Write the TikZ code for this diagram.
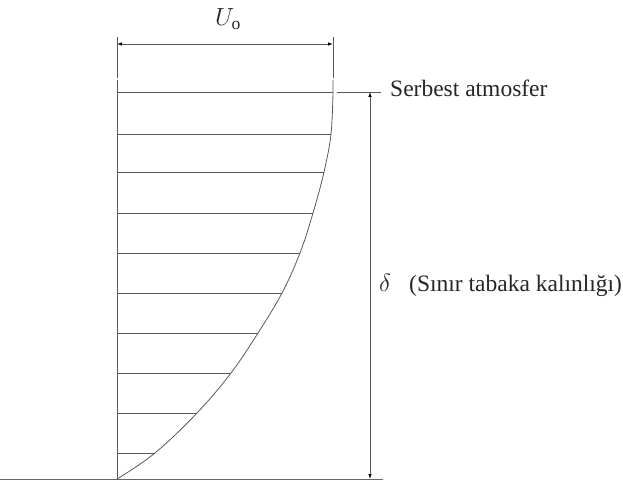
\documentclass[tikz,border=0pt]{standalone}
\usepackage{fontspec}
\setmainfont{Liberation Serif}
\usetikzlibrary{arrows.meta}
\begin{document}
\begin{tikzpicture}[x=1pt,y=-1pt,
  thin line/.style={draw=black!65,line width=0.8pt},
  dimline/.style={draw=black!65,line width=0.8pt,{Latex[length=5pt,width=3.5pt,color=black]}-{Latex[length=5pt,width=3.5pt,color=black]}},
  lbl/.style={font=\fontsize{23.5}{28}\selectfont,inner sep=0pt,text=black!85}]
\useasboundingbox (0,0) rectangle (623,481);
% key points
\coordinate (O) at (117,479);
\coordinate (axtop) at (117,80);
\coordinate (exLt) at (117,37);
\coordinate (exLb) at (117,78);
\coordinate (exRt) at (333,37);
\coordinate (exRb) at (333,78);
\coordinate (dimL) at (117,44);
\coordinate (dimR) at (333,44);
\coordinate (top) at (333,92);
\coordinate (curvetop) at (333,80);
\coordinate (gL) at (0,479.5);
\coordinate (gR) at (383,479.5);
\coordinate (tickL) at (337,92);
\coordinate (tickR) at (381,92);
\coordinate (dTop) at (370,92);
\coordinate (dBot) at (370,479);
% ground
\draw[draw=black!60,line width=1.8pt] (gL) -- (gR);
% axis and extension lines
\draw[thin line] (O) -- (axtop);
\draw[thin line] (exLt) -- (exLb);
\draw[thin line] (exRt) -- (exRb);
\draw[dimline] (dimL) -- (dimR);
% velocity profile
\draw[thin line] plot[smooth,tension=0.6] coordinates {(117,479) (155,453) (197,413) (231,373) (258,333) (282,293) (300,253) (313,213) (324,172) (331,134) (333,92)} -- (curvetop);
% horizontal velocity lines
\foreach \yy/\xx in {92/333,134/331,172/324,213/313,253/300,293/282,333/258,373/231,413/197,453/155}
  \draw[thin line] (117,\yy) -- (\xx,\yy);
% boundary layer thickness dimension
\draw[thin line] (tickL) -- (tickR);
\draw[dimline] (dTop) -- (dBot);
% labels
\node[lbl,font=\fontsize{25}{30}\selectfont] (U) at (228,19) {$U_{\mathrm{o}}$};
\node[lbl,anchor=base west] (serbest) at (390,97) {Serbest atmosfer};
\node[lbl,anchor=base west,font=\fontsize{25}{30}\selectfont] (delta) at (379,291) {$\delta$};
\node[lbl,anchor=base west] (sinir) at (409,291) {(Sınır tabaka kalınlığı)};
\end{tikzpicture}
\end{document}
